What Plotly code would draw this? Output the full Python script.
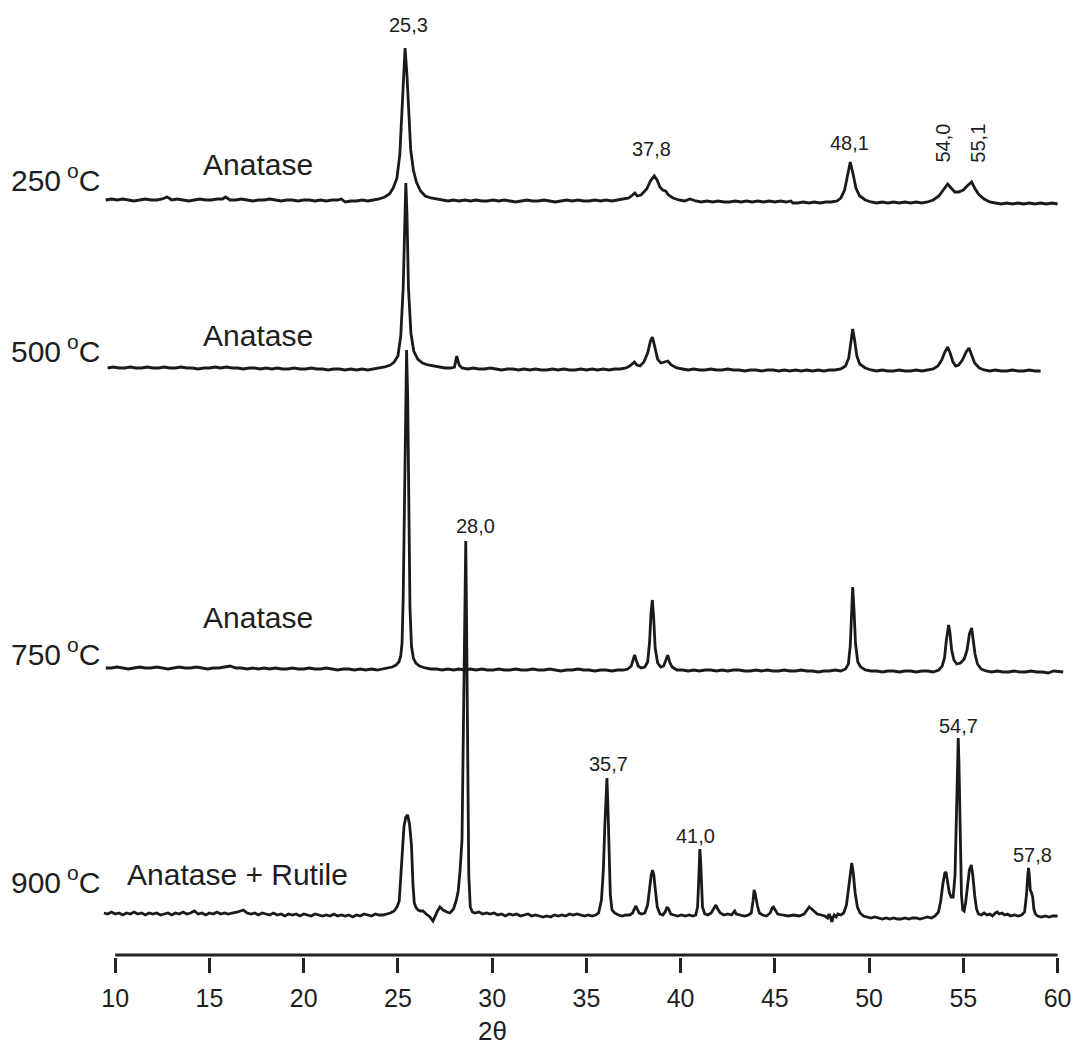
import plotly.graph_objects as go

# ---------------- data (2theta, intensity above each pattern's baseline) ----------------
two_theta_ticks = [10, 15, 20, 25, 30, 35, 40, 45, 50, 55, 60]
tick_labels = ["10", "15", "20", "25", "30", "35", "40", "45", "50", "55", "60"]

temperatures = ["250", "500", "750", "900"]
phases = ["Anatase", "Anatase", "Anatase", "Anatase + Rutile"]
baseline_offsets = [755, 587, 287, 40]

pattern_250 = [
    (9.5, 0), (9.8, 1), (10.1, 0), (10.4, 1), (10.7, 0), (11.0, -1), (11.3, 0), (11.6, 1), (11.9, 0),
    (12.2, 0), (12.5, 1), (12.75, 3), (12.85, 2), (13.0, 0), (13.3, 1), (13.6, 0), (13.9, -1), (14.2, 0),
    (14.5, 1), (14.8, 0), (15.1, 0), (15.4, 1), (15.7, 1), (15.85, 3), (15.95, 2), (16.1, 0), (16.4, 0),
    (16.7, 1), (17.0, 0), (17.3, -1), (17.6, 0), (17.9, 0), (18.2, 1), (18.5, 0), (18.8, -1), (19.1, 0),
    (19.4, 0), (19.7, -1), (20.0, 0), (20.3, 0), (20.6, -1), (20.9, 0), (21.2, -1), (21.5, 0), (21.8, 0),
    (22.0, 1), (22.2, -2), (22.5, -1), (22.8, -1), (23.1, 0), (23.4, -1), (23.7, 0), (24.0, 1), (24.3, 3),
    (24.55, 6), (24.75, 12), (24.95, 22), (25.1, 45), (25.2, 80), (25.3, 128), (25.38, 152), (25.48, 125),
    (25.58, 80), (25.68, 50), (25.82, 30), (25.98, 18), (26.2, 9), (26.45, 4), (26.75, 2), (27.05, 1),
    (27.35, 0), (27.65, -1), (27.95, 0), (28.25, -1), (28.55, 0), (28.85, -1), (29.15, 0), (29.45, -1),
    (29.75, -1), (30.05, 0), (30.35, -1), (30.65, 0), (30.95, -1), (31.25, -2), (31.55, -1), (31.85, 0),
    (32.15, -1), (32.45, -1), (32.75, 0), (33.05, -1), (33.35, -2), (33.65, -1), (33.95, 0), (34.25, -1),
    (34.55, 0), (34.85, -1), (35.15, -1), (35.45, 0), (35.75, -1), (36.05, 0), (36.35, -1), (36.65, 0),
    (36.95, 1), (37.25, 2), (37.45, 5), (37.57, 7), (37.7, 4), (37.9, 5), (38.2, 11), (38.4, 19),
    (38.6, 24), (38.75, 20), (38.9, 13), (39.05, 10), (39.2, 9), (39.35, 5), (39.6, 2), (39.9, 0),
    (40.2, -1), (40.5, 1), (40.8, -1), (41.1, -2), (41.4, -1), (41.7, -2), (42.0, -1), (42.3, -2),
    (42.6, -2), (42.9, -1), (43.2, -2), (43.5, -1), (43.8, -2), (44.1, -1), (44.4, -2), (44.7, -1),
    (45.0, -2), (45.3, -1), (45.6, -2), (45.85, -1), (45.95, -3), (46.2, -3), (46.5, -2), (46.8, -3),
    (47.1, -2), (47.4, -3), (47.7, -2), (48.0, -2), (48.3, -1), (48.5, 2), (48.7, 10), (48.85, 25),
    (49.0, 38), (49.15, 26), (49.3, 12), (49.5, 4), (49.8, 0), (50.1, -2), (50.4, -3), (50.7, -2),
    (51.0, -3), (51.3, -2), (51.6, -3), (51.9, -2), (52.2, -3), (52.5, -2), (52.8, -3), (53.1, -2),
    (53.4, 0), (53.7, 4), (53.95, 10), (54.17, 16), (54.35, 12), (54.55, 8), (54.75, 8), (55.0, 10),
    (55.2, 14), (55.44, 18), (55.6, 12), (55.8, 6), (56.1, 1), (56.4, -2), (56.7, -3), (57.0, -4),
    (57.3, -3), (57.6, -4), (57.9, -3), (58.2, -4), (58.5, -3), (58.8, -4), (59.1, -3), (59.4, -4),
    (59.7, -3), (60.0, -4),
]

pattern_500 = [
    (9.6, 0), (9.9, 1), (10.2, 0), (10.5, 0), (10.8, 1), (11.1, 0), (11.4, 0), (11.7, 1), (12.0, 0),
    (12.3, 0), (12.6, 1), (12.9, 0), (13.2, 0), (13.5, 1), (13.8, 0), (14.1, 0), (14.4, -1), (14.7, 0),
    (15.0, 0), (15.3, 1), (15.6, 0), (15.9, 1), (16.2, 0), (16.5, 0), (16.8, -1), (17.1, 0), (17.4, 0),
    (17.7, -1), (18.0, 0), (18.3, -1), (18.6, 0), (18.9, -1), (19.2, -1), (19.5, 0), (19.8, -1),
    (20.1, -1), (20.4, 0), (20.7, -1), (21.0, -1), (21.3, -2), (21.6, -1), (21.9, -1), (22.2, -2),
    (22.5, -1), (22.8, -2), (23.1, -1), (23.4, -2), (23.7, -1), (24.0, 0), (24.3, 1), (24.6, 3),
    (24.8, 6), (25.0, 12), (25.15, 32), (25.28, 80), (25.36, 150), (25.42, 185), (25.48, 155),
    (25.56, 80), (25.69, 35), (25.84, 17), (26.05, 9), (26.3, 5), (26.6, 3), (26.9, 2), (27.2, 1),
    (27.5, 0), (27.8, 0), (28.0, 1), (28.12, 12), (28.25, 3), (28.4, 0), (28.7, -1), (29.0, 0),
    (29.3, -1), (29.6, -1), (29.9, 0), (30.2, -1), (30.5, -2), (30.8, -1), (31.1, -1), (31.4, -2),
    (31.7, -1), (32.0, -2), (32.3, -1), (32.6, -2), (32.9, -2), (33.2, -1), (33.5, -2), (33.8, -1),
    (34.1, -2), (34.4, -2), (34.7, -1), (35.0, -2), (35.3, -1), (35.6, -2), (35.9, -1), (36.2, -2),
    (36.5, -1), (36.8, -1), (37.1, 0), (37.3, 2), (37.45, 5), (37.55, 6), (37.68, 3), (37.85, 2),
    (38.05, 6), (38.25, 15), (38.4, 27), (38.5, 31), (38.62, 22), (38.78, 9), (38.95, 5), (39.15, 6),
    (39.32, 7), (39.5, 3), (39.8, 0), (40.1, -1), (40.4, -2), (40.7, -1), (41.0, -2), (41.3, -2),
    (41.6, -1), (41.9, -2), (42.2, -2), (42.5, -1), (42.8, -2), (43.1, -2), (43.4, -3), (43.7, -2),
    (44.0, -2), (44.3, -3), (44.6, -2), (44.9, -2), (45.2, -3), (45.5, -2), (45.8, -3), (46.1, -2),
    (46.4, -3), (46.7, -2), (47.0, -3), (47.3, -2), (47.6, -3), (47.9, -2), (48.2, -2), (48.5, -1),
    (48.75, 2), (48.92, 10), (49.03, 26), (49.13, 39), (49.23, 28), (49.35, 12), (49.5, 4), (49.8, 0),
    (50.1, -2), (50.4, -3), (50.7, -2), (51.0, -3), (51.3, -3), (51.6, -2), (51.9, -3), (52.2, -3),
    (52.5, -2), (52.8, -3), (53.1, -2), (53.4, -1), (53.65, 2), (53.85, 8), (54.02, 16), (54.17, 21),
    (54.3, 15), (54.45, 6), (54.6, 2), (54.75, 3), (54.95, 8), (55.15, 16), (55.3, 20), (55.45, 13),
    (55.6, 5), (55.85, 0), (56.1, -2), (56.4, -3), (56.7, -2), (57.0, -3), (57.3, -3), (57.6, -2),
    (57.9, -3), (58.2, -3), (58.5, -2), (58.8, -3), (59.1, -3),
]

pattern_750 = [
    (9.5, 0), (9.8, 0), (10.1, 1), (10.4, 0), (10.7, -1), (11.0, 0), (11.3, 1), (11.6, 0), (11.9, 0),
    (12.2, 1), (12.5, 0), (12.8, -1), (13.1, 0), (13.4, 1), (13.7, 0), (14.0, 0), (14.3, 1), (14.6, 0),
    (14.9, -1), (15.2, 0), (15.5, 0), (15.8, 1), (16.1, 2), (16.4, 0), (16.7, 0), (17.0, -1), (17.3, 0),
    (17.6, -1), (17.9, 0), (18.2, -1), (18.5, 0), (18.8, -1), (19.1, -1), (19.4, 0), (19.7, -1),
    (20.0, -1), (20.3, 0), (20.6, -1), (20.9, -1), (21.2, 0), (21.5, -1), (21.8, -2), (22.1, -1),
    (22.4, -1), (22.7, -2), (23.0, -1), (23.3, -2), (23.6, -1), (23.9, -2), (24.2, -1), (24.5, 0),
    (24.7, 1), (24.9, 3), (25.05, 6), (25.15, 12), (25.22, 25), (25.28, 70), (25.34, 170), (25.4, 270),
    (25.46, 318), (25.52, 270), (25.58, 160), (25.64, 60), (25.72, 22), (25.82, 10), (25.95, 5),
    (26.15, 2), (26.45, 0), (26.75, -1), (27.05, -1), (27.35, -2), (27.65, -1), (27.95, -2), (28.25, -1),
    (28.55, -2), (28.85, -1), (29.15, -2), (29.45, -1), (29.75, -2), (30.05, -2), (30.35, -1), (30.65, -2),
    (30.95, -2), (31.25, -1), (31.55, -2), (31.85, -2), (32.15, -1), (32.45, -2), (32.75, -2), (33.05, -1),
    (33.35, -2), (33.65, -3), (33.95, -2), (34.25, -2), (34.55, -1), (34.85, -2), (35.15, -2), (35.45, -3),
    (35.75, -2), (36.05, -2), (36.35, -3), (36.65, -2), (36.95, -2), (37.2, -1), (37.38, 2), (37.48, 8),
    (37.56, 13), (37.64, 8), (37.75, 2), (37.9, 0), (38.1, 1), (38.25, 6), (38.35, 25), (38.43, 55),
    (38.5, 68), (38.57, 50), (38.65, 20), (38.78, 5), (38.95, 1), (39.1, 2), (39.22, 7), (39.32, 13),
    (39.42, 6), (39.55, 1), (39.8, -2), (40.1, -2), (40.4, -3), (40.7, -2), (41.0, -3), (41.3, -2),
    (41.6, -2), (41.9, -3), (42.2, -2), (42.5, -3), (42.8, -2), (43.1, -2), (43.4, -3), (43.7, -3),
    (44.0, -2), (44.3, -3), (44.6, -2), (44.9, -3), (45.2, -3), (45.5, -2), (45.8, -3), (46.1, -3),
    (46.4, -2), (46.7, -3), (47.0, -3), (47.3, -4), (47.6, -3), (47.9, -3), (48.2, -2), (48.5, -3),
    (48.75, -1), (48.9, 4), (49.0, 22), (49.07, 55), (49.13, 81), (49.2, 58), (49.28, 24), (49.4, 6),
    (49.55, 1), (49.8, -2), (50.1, -3), (50.4, -3), (50.7, -4), (51.0, -3), (51.3, -3), (51.6, -4),
    (51.9, -3), (52.2, -3), (52.5, -4), (52.8, -3), (53.1, -3), (53.4, -4), (53.7, -2), (53.88, 2),
    (54.0, 10), (54.1, 28), (54.17, 40), (54.22, 43), (54.29, 35), (54.38, 18), (54.5, 8), (54.65, 4),
    (54.85, 5), (55.05, 9), (55.2, 18), (55.32, 34), (55.44, 40), (55.52, 30), (55.62, 14), (55.75, 4),
    (55.95, -1), (56.2, -3), (56.5, -4), (56.8, -3), (57.1, -4), (57.4, -4), (57.7, -3), (58.0, -4),
    (58.3, -4), (58.6, -3), (58.9, -4), (59.2, -4), (59.5, -5), (59.8, -3), (60.1, -4), (60.3, -4),
]

pattern_900 = [
    (9.4, 2), (9.6, 1), (9.8, 3), (10.0, 1), (10.2, 2), (10.4, 0), (10.6, 2), (10.8, 1), (11.0, 3),
    (11.2, 1), (11.4, 2), (11.6, 0), (11.8, 2), (12.0, 1), (12.2, 2), (12.4, 0), (12.6, 1), (12.8, 2),
    (13.0, 0), (13.2, 2), (13.4, 1), (13.6, 3), (13.8, 1), (14.0, 2), (14.2, 4), (14.4, 1), (14.6, 2),
    (14.8, 0), (15.0, 2), (15.2, 1), (15.4, 3), (15.6, 1), (15.8, 2), (16.0, 1), (16.2, 2), (16.5, 3),
    (16.8, 5), (17.0, 2), (17.2, 1), (17.4, 2), (17.6, 0), (17.8, 2), (18.0, 1), (18.2, 0), (18.4, 2),
    (18.6, 0), (18.8, 1), (19.0, -1), (19.2, 1), (19.4, 0), (19.6, 1), (19.8, -1), (20.0, 1), (20.2, 0),
    (20.4, -1), (20.6, 1), (20.8, 0), (21.0, -1), (21.2, 0), (21.4, -1), (21.6, 1), (21.8, -1), (22.0, 0),
    (22.2, -1), (22.4, 0), (22.6, -2), (22.8, 0), (23.0, -1), (23.2, 1), (23.4, 0), (23.6, -1), (23.8, 1),
    (24.0, 0), (24.2, 0), (24.4, 1), (24.6, 2), (24.8, 4), (24.95, 8), (25.07, 14), (25.15, 40),
    (25.22, 66), (25.32, 88), (25.42, 98), (25.52, 100), (25.62, 90), (25.72, 70), (25.8, 30),
    (25.87, 12), (25.95, 8), (26.07, 5), (26.2, 4), (26.33, 4), (26.5, 1), (26.7, -2), (26.86, -6),
    (26.95, -2), (27.1, 4), (27.23, 8), (27.4, 5), (27.6, 3), (27.76, 2), (27.95, 6), (28.1, 15),
    (28.2, 24), (28.3, 45), (28.4, 75), (28.48, 180), (28.56, 300), (28.6, 374), (28.64, 300),
    (28.7, 150), (28.76, 40), (28.84, 8), (28.95, 3), (29.1, 2), (29.3, 3), (29.5, 1), (29.7, 2),
    (29.9, 1), (30.1, 2), (30.3, 0), (30.5, 1), (30.7, -1), (30.9, 1), (31.1, 0), (31.3, 1), (31.5, -1),
    (31.7, 0), (31.9, 1), (32.1, -1), (32.3, 0), (32.5, -1), (32.7, -2), (32.9, -1), (33.1, -2),
    (33.3, 0), (33.5, -1), (33.7, 0), (33.9, -1), (34.1, 1), (34.3, 0), (34.5, 1), (34.7, 0), (34.9, -1),
    (35.1, 0), (35.3, -1), (35.5, 0), (35.65, 2), (35.8, 15), (35.9, 45), (35.98, 90), (36.04, 125),
    (36.09, 137), (36.14, 110), (36.2, 60), (36.27, 20), (36.36, 5), (36.5, 2), (36.7, 0), (36.9, -1),
    (37.1, 0), (37.3, 0), (37.45, 2), (37.55, 7), (37.62, 9), (37.7, 6), (37.8, 2), (37.95, 1),
    (38.1, 2), (38.25, 10), (38.35, 28), (38.44, 40), (38.51, 45), (38.58, 40), (38.66, 25), (38.76, 8),
    (38.9, 1), (39.05, 0), (39.18, 3), (39.28, 8), (39.36, 6), (39.48, 1), (39.65, 0), (39.85, -1),
    (40.05, 0), (40.25, -1), (40.45, 0), (40.65, -1), (40.8, 0), (40.9, 8), (40.96, 35), (41.02, 66),
    (41.06, 55), (41.1, 25), (41.16, 8), (41.28, 1), (41.45, 0), (41.62, 2), (41.75, 7), (41.87, 10),
    (41.97, 6), (42.1, 2), (42.3, 0), (42.5, 1), (42.7, 0), (42.8, 3), (42.87, 4), (42.95, 1), (43.15, 0),
    (43.4, -1), (43.6, 0), (43.75, 2), (43.84, 14), (43.9, 25), (43.95, 22), (44.0, 16), (44.08, 9),
    (44.18, 2), (44.35, 0), (44.55, -1), (44.75, 2), (44.86, 7), (44.93, 8), (45.02, 5), (45.15, 1),
    (45.4, 0), (45.7, -1), (46.0, 0), (46.3, -1), (46.55, 1), (46.7, 5), (46.82, 8), (46.95, 6),
    (47.1, 3), (47.25, 1), (47.45, 0), (47.65, -1), (47.8, -3), (47.88, 1), (47.95, -2), (48.02, -7),
    (48.08, -3), (48.15, 0), (48.25, -2), (48.35, 1), (48.5, 0), (48.65, 2), (48.8, 10), (48.9, 26),
    (49.0, 45), (49.08, 52), (49.16, 42), (49.26, 22), (49.38, 8), (49.52, 2), (49.7, -1), (49.9, -2),
    (50.1, -3), (50.3, -2), (50.5, -3), (50.7, -4), (50.9, -3), (51.1, -4), (51.3, -3), (51.5, -4),
    (51.7, -4), (51.9, -3), (52.1, -4), (52.3, -3), (52.5, -3), (52.7, -4), (52.9, -3), (53.1, -2),
    (53.3, -3), (53.5, -1), (53.68, 3), (53.8, 14), (53.92, 32), (54.02, 42), (54.08, 43), (54.16, 35),
    (54.26, 22), (54.36, 18), (54.46, 18), (54.56, 40), (54.64, 120), (54.7, 170), (54.73, 177),
    (54.77, 150), (54.83, 70), (54.9, 20), (54.97, 5), (55.04, 4), (55.12, 12), (55.22, 30), (55.32, 45),
    (55.42, 50), (55.5, 40), (55.6, 20), (55.7, 6), (55.8, 1), (55.95, 0), (56.1, 2), (56.25, 0),
    (56.4, 1), (56.55, -1), (56.7, 2), (56.8, 3), (56.9, 1), (57.05, 2), (57.2, 0), (57.35, 1),
    (57.5, -1), (57.7, 0), (57.9, -1), (58.1, 0), (58.25, 3), (58.35, 20), (58.42, 40), (58.46, 47),
    (58.5, 40), (58.55, 25), (58.62, 22), (58.68, 18), (58.74, 6), (58.82, 1), (58.95, -1), (59.15, -2),
    (59.35, -1), (59.55, -2), (59.75, -1), (60.0, -1),
]

patterns = [pattern_250, pattern_500, pattern_750, pattern_900]

# peak labels: text, 2theta position, height (same units as the y axis), rotation
peak_label_text = ["25,3", "37,8", "48,1", "54,0", "55,1", "28,0", "35,7", "41,0", "54,7", "57,8"]
peak_label_x = [25.56, 38.47, 48.97, 53.9, 55.76, 29.14, 36.19, 40.78, 54.72, 58.66]
peak_label_y = [930, 806, 812, 812, 812, 429, 191, 119, 229, 100]
peak_label_angle = [0, 0, 0, -90, -90, 0, 0, 0, 0, 0]

# ---------------- figure ----------------
LINE = "#1a1a1a"
TEXT = "#1e1e1e"
FONT = "Arial, Liberation Sans, sans-serif"

fig = go.Figure()
for pts, off, t in zip(patterns, baseline_offsets, temperatures):
    fig.add_trace(go.Scatter(
        x=[p[0] for p in pts],
        y=[p[1] + off for p in pts],
        mode="lines",
        line=dict(color=LINE, width=2.8),
        name=t + " °C",
        showlegend=False,
        hoverinfo="skip",
    ))

# axis line from first to last tick
fig.add_shape(type="line", xref="x", yref="y",
              x0=two_theta_ticks[0], x1=two_theta_ticks[-1], y0=0, y1=0,
              line=dict(color="#222222", width=3))

ann = []
# temperature labels (right-aligned at the left edge)
temp_label_y = [777, 606, 303, 75]
for t, y in zip(temperatures, temp_label_y):
    ann.append(dict(xref="paper", yref="y", x=0.0, y=y, xanchor="right", yanchor="middle",
                    text=t + "\u2009<sup>o</sup>C", showarrow=False,
                    font=dict(family=FONT, size=30, color=TEXT)))

phase_label_x = [14.56, 14.56, 14.56, 10.53]
phase_label_y = [791, 620, 338, 81]
for p, x, y in zip(phases, phase_label_x, phase_label_y):
    ann.append(dict(xref="x", yref="y", x=x, y=y, xanchor="left", yanchor="middle",
                    text=p, showarrow=False,
                    font=dict(family=FONT, size=30, color=TEXT)))

for t, x, y, a in zip(peak_label_text, peak_label_x, peak_label_y, peak_label_angle):
    ann.append(dict(xref="x", yref="y", x=x, y=y, xanchor="center", yanchor="middle",
                    text=t, textangle=a, showarrow=False,
                    font=dict(family=FONT, size=20, color=TEXT)))

# axis title placed under the 30 tick, as in the original
ann.append(dict(xref="x", yref="paper", x=30.04, y=-0.078, xanchor="center", yanchor="middle",
                text="2θ", showarrow=False, font=dict(family=FONT, size=26, color=TEXT)))

# the page body adds an 8 px margin, so the figure is 8 px smaller and shifted
fig.update_layout(
    width=1079, height=1038,
    margin=dict(l=94, r=20, t=0, b=89),
    paper_bgcolor="white", plot_bgcolor="white",
    annotations=ann,
    xaxis=dict(range=[9.3, 60.5], showgrid=False, zeroline=False, showline=False,
               tickmode="array", tickvals=two_theta_ticks, ticktext=tick_labels,
               ticks="outside", ticklen=15, tickwidth=3, tickcolor="#222222",
               tickfont=dict(family=FONT, size=25, color=TEXT), ticklabelstandoff=4),
    yaxis=dict(range=[-2, 947], visible=False, showgrid=False, zeroline=False),
)

fig.write_html("out.html")
